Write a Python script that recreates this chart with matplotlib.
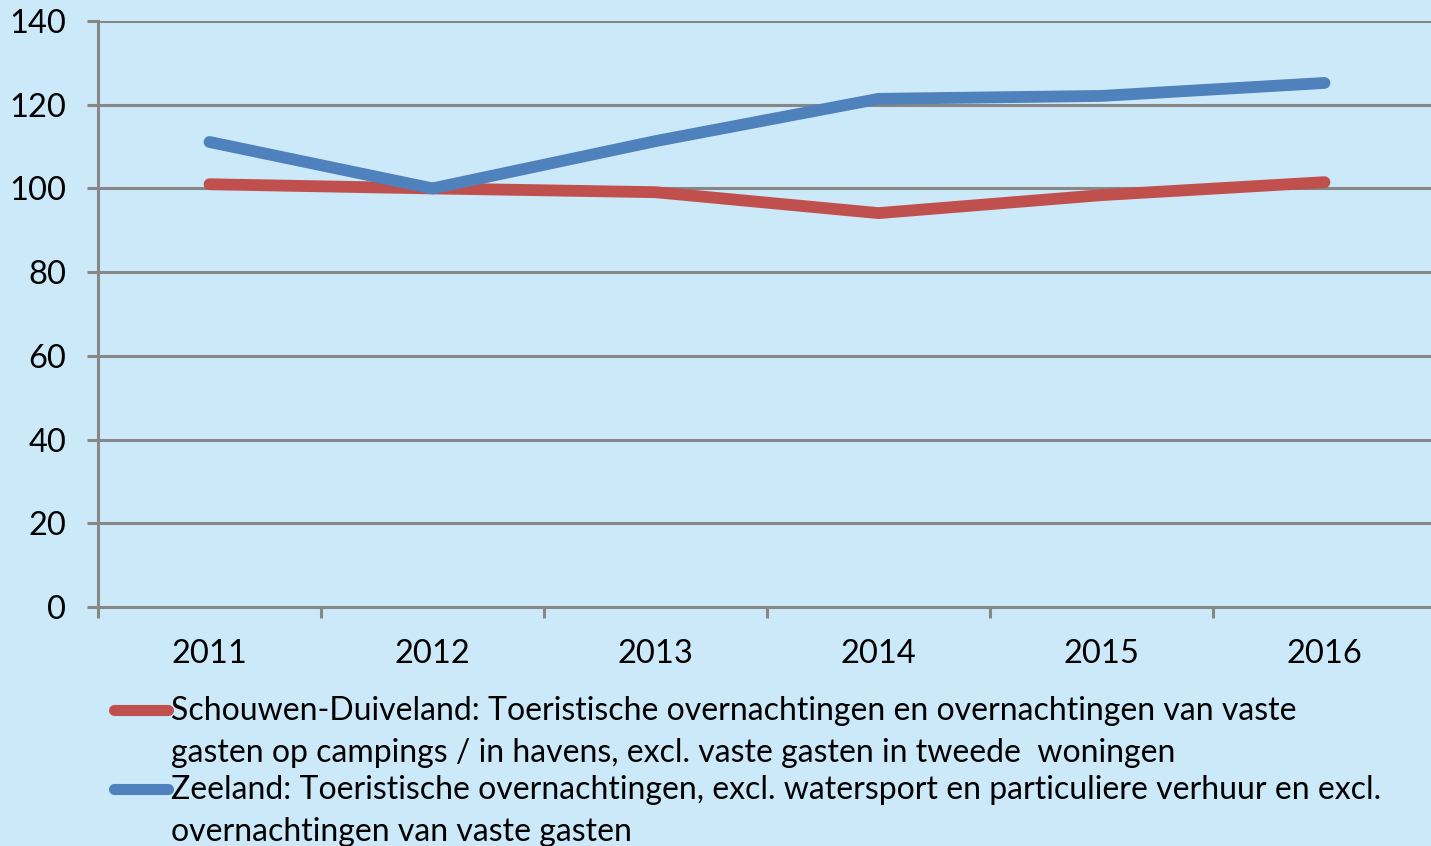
import matplotlib.pyplot as plt
from matplotlib.lines import Line2D

years = ["2011", "2012", "2013", "2014", "2015", "2016"]
schouwen = [101.0, 100.0, 99.1, 94.1, 98.4, 101.5]
zeeland = [111.1, 100.0, 111.3, 121.4, 122.1, 125.2]
labels = [
    "Schouwen-Duiveland: Toeristische overnachtingen en overnachtingen van vaste\n"
    "gasten op campings / in havens, excl. vaste gasten in tweede  woningen",
    "Zeeland: Toeristische overnachtingen, excl. watersport en particuliere verhuur en excl.\n"
    "overnachtingen van vaste gasten",
]
colors = ["#C0504D", "#4F81BD"]

bg = "#CCE9F9"
grid_c = "#878787"
plt.rcParams['font.family'] = ['Lato', 'DejaVu Sans']

fig = plt.figure(figsize=(14.31, 8.46), dpi=100, facecolor=bg)
ax = fig.add_axes([98 / 1431, 1 - 607 / 846, 1338 / 1431, 586 / 846])
ax.set_facecolor(bg)

x = list(range(len(years)))
for vals, c in zip([schouwen, zeeland], colors):
    ax.plot(x, vals, color=c, lw=8.5, solid_capstyle='round', solid_joinstyle='miter', zorder=3)

ax.set_xlim(-0.5, len(years) - 0.5)
ax.set_ylim(0, 140)
ax.set_yticks(range(0, 141, 20))
ax.yaxis.grid(True, color=grid_c, lw=2.2)
ax.set_axisbelow(True)

ax.set_xticks([i - 0.5 for i in range(len(years) + 1)])
ax.set_xticklabels([])
ax.set_xticks(x, minor=True)
ax.set_xticklabels(years, minor=True, fontsize=23.5)
ax.tick_params(axis='x', which='minor', length=0, pad=23)
ax.tick_params(axis='x', which='major', length=8, width=2.2, color=grid_c, direction='out')
ax.tick_params(axis='y', length=8, width=2.2, color=grid_c, labelsize=23.5, pad=15)

for s in ['top', 'right']:
    ax.spines[s].set_visible(False)
for s in ['left', 'bottom']:
    ax.spines[s].set_color(grid_c)
    ax.spines[s].set_linewidth(2.2)

# legend drawn by hand, Excel style
legend_y = [1 - 710 / 846, 1 - 789 / 846]
for lab, c, yy in zip(labels, colors, legend_y):
    fig.add_artist(Line2D([114 / 1431, 168 / 1431], [yy, yy], color=c, lw=8,
                          solid_capstyle='round', transform=fig.transFigure))
    fig.text(171 / 1431, yy + 14 / 846, lab, fontsize=23, va='top', ha='left',
             linespacing=1.5, transform=fig.transFigure)

fig.savefig("out.png", dpi=100, facecolor=bg)
